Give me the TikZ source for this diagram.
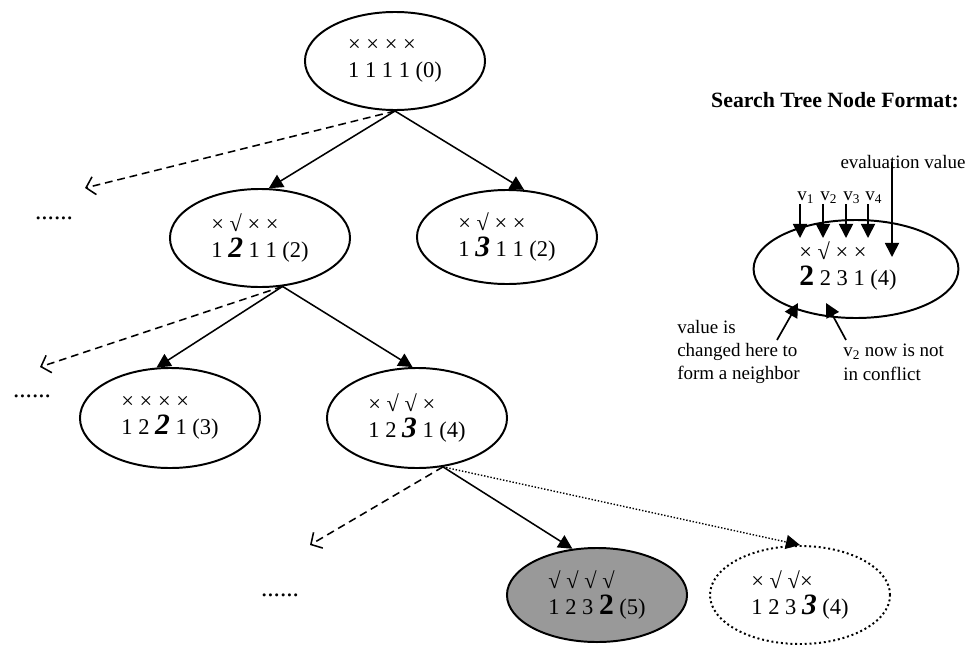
\documentclass[tikz,border=0pt]{standalone}
\usepackage{fontspec}
\setmainfont{Liberation Serif}
\usepackage{tikz}
\usetikzlibrary{
  shapes.geometric,
  arrows.meta,
  positioning
}

\newcommand{\chg}[1]{{\fontsize{21}{18}\selectfont\bfseries\itshape #1}}
\newcommand{\chgu}[1]{{\fontsize{21}{18}\selectfont\bfseries #1}}

\tikzset{
  state/.style={ellipse, draw, line width=1.4pt, minimum width=4.5cm, minimum height=2.45cm,
    inner sep=0pt, align=left, font=\fontsize{16}{18}\selectfont},
  tree/.style={line width=1.1pt, -{Triangle[length=10pt,width=10pt]}},
  sidearr/.style={line width=1.1pt, dash pattern=on 5.5pt off 3.5pt, -{Straight Barb[length=6pt,width=13pt]}},
  dotarr/.style={line width=1pt, dash pattern=on 1pt off 1.3pt, -{Triangle[length=10pt,width=10pt]}},
  legarr/.style={line width=1.2pt, -{Triangle[length=10pt,width=10pt]}},
  ltext/.style={inner sep=0pt, font=\fontsize{13.5}{16.5}\selectfont},
  more/.style={inner sep=0pt, font=\fontsize{18}{18}\selectfont}
}

\begin{document}
\begin{tikzpicture}[x=0.025cm, y=-0.025cm]

  \useasboundingbox (0,0) rectangle (968,645);

  % Search tree
  \node[state] (T)  at (395,61)  {× × × ×\\1 1 1 1 (0)};
  \node[state] (L1) at (260,238) {× √ × ×\\1 \chg{2} 1 1 (2)};
  \node[state, minimum height=2.35cm] (R1) at (507,237) {× √ × ×\\1 \chg{3} 1 1 (2)};
  \node[state, minimum height=2.5cm] (L2) at (170,418) {× × × ×\\1 2 \chg{2} 1 (3)};
  \node[state, minimum height=2.5cm] (R2) at (417,418) {× √ √ ×\\1 2 \chg{3} 1 (4)};
  \node[state, minimum height=2.35cm, fill=black!40] (G) at (597,595) {√ √ √ √\\1 2 3 \chgu{2} (5)};
  \node[state, dash pattern=on 1.4pt off 2pt] (D) at (800,595) {× √ √×\\1 2 3 \chg{3} (4)};

  % other neighbours
  \coordinate (d1) at (85,188);
  \coordinate (d2) at (40,367);
  \coordinate (d3) at (310,545);
  \node[more] (m1) at (54,218) {......};
  \node[more] (m2) at (32,396) {......};
  \node[more] (m3) at (280,595) {......};

  \draw[tree] (T.south) -- (L1.80);
  \draw[tree] (T.south) -- (R1.70);
  \draw[sidearr] (T.south) -- (d1);
  \draw[tree] (L1.-65) -- (L2.105);
  \draw[tree] (L1.-65) -- (R2.95);
  \draw[sidearr] (L1.-65) -- (d2);
  \draw[tree] (R2.-62) -- (G.118);
  \draw[dotarr] (R2.-62) -- (D.north);
  \draw[sidearr] (R2.-62) -- (d3);

  % Node format legend
  \node[font=\fontsize{15.5}{18}\selectfont\bfseries] (fmt) at (835,100) {Search Tree Node Format:};
  \node[state, minimum width=5.12cm, align=left] (LG) at (856,269) {};
  \node[inner sep=0pt, align=left, font=\fontsize{16}{18}\selectfont] (LGt) at (848,266) {× √ × ×\\\chgu{2} 2 3 1 (4)};

  \foreach \i/\x in {1/800, 2/823, 3/846, 4/868}{
    \coordinate (t\i) at (\x,238);
    \node[ltext, anchor=south west] (v\i) at (\x-3,204) {v\textsubscript{\i}};
    \draw[legarr] (v\i.south -| t\i) -- (t\i);
  }

  \node[ltext] (eval) at (903,162) {evaluation value};
  \coordinate (te) at (892,257);
  \draw[legarr] (eval.center -| te) -- (te);

  \node[ltext, align=left, anchor=north west] (why1) at (677,320) {value is\\changed here to\\form a neighbor};
  \node[ltext, align=left, anchor=north west] (why2) at (843,344) {v\textsubscript{2} now is not\\in conflict};
  \coordinate (a1) at (777,340);
  \coordinate (b1) at (798,303);
  \coordinate (a2) at (846,340);
  \coordinate (b2) at (826,303);
  \draw[legarr] (a1) -- (b1);
  \draw[legarr] (a2) -- (b2);

\end{tikzpicture}
\end{document}
